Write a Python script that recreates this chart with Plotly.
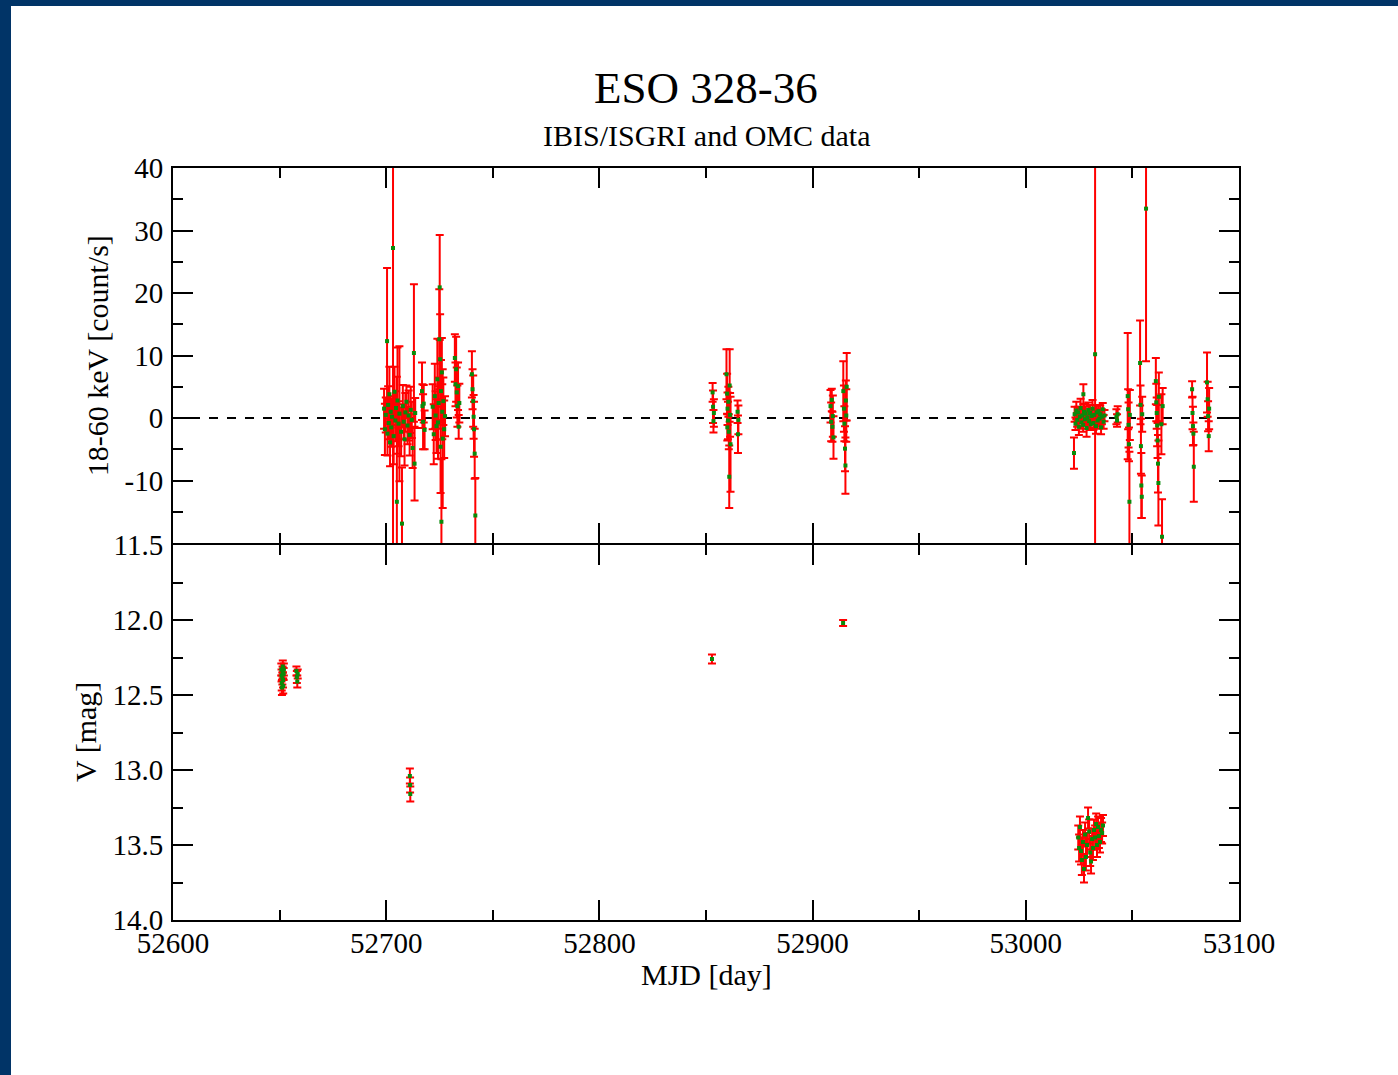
import plotly.graph_objects as go
from plotly.subplots import make_subplots

# ---------------------------------------------------------------
# IBIS/ISGRI 18-60 keV count rates: MJD, rate [count/s], 1-sigma error
# ---------------------------------------------------------------
isgri_mjd = [
    # Rev. ~52700
    52699.0, 52699.4, 52699.8, 52700.4, 52700.6, 52700.9, 52701.2, 52701.5, 52701.8, 52702.1,
    52702.4, 52702.7, 52703.2, 52703.5, 52703.9, 52704.3, 52704.6, 52705.0, 52705.3, 52705.8,
    52706.2, 52707.4, 52707.0, 52707.8, 52708.2, 52708.6, 52709.0, 52709.5, 52710.0, 52710.5,
    52711.0, 52711.5, 52712.0, 52712.4, 52713.0, 52713.3, 52713.6,
    # ~52717
    52716.8, 52717.0, 52717.3, 52717.6, 52718.0,
    # ~52725
    52721.8, 52722.3, 52722.8, 52723.2, 52723.6, 52724.0, 52724.3, 52724.6, 52724.9, 52725.1,
    52725.3, 52725.5, 52725.7, 52725.9, 52726.1, 52726.3, 52726.5, 52726.8, 52727.2, 52727.6,
    # ~52733
    52732.2, 52732.5, 52732.8, 52733.1, 52733.4, 52733.7, 52734.0, 52734.3,
    # ~52741
    52740.2, 52740.5, 52740.8, 52741.0, 52741.2, 52741.5, 52741.8,
    # ~52853 - 52865
    52853.1, 52853.3, 52853.5, 52853.7, 52859.6, 52859.9, 52860.0, 52860.1, 52860.3, 52860.5,
    52860.7, 52860.9, 52861.1, 52861.3, 52861.5, 52864.8, 52865.0, 52865.2,
    # ~52909 - 52916
    52908.4, 52908.7, 52909.0, 52909.3, 52909.5, 52909.8, 52914.4, 52914.7, 52914.9, 52915.2,
    52915.4, 52915.6, 52915.8, 52916.0,
    # ~53023 - 53037
    53022.9, 53023.3, 53023.7, 53024.1, 53024.5, 53024.9, 53025.3, 53025.7, 53026.1, 53026.5,
    53026.9, 53027.3, 53027.7, 53028.1, 53028.5, 53028.9, 53029.3, 53029.7, 53030.1, 53030.5,
    53030.9, 53031.3, 53031.7, 53032.1, 53032.9, 53033.3, 53033.7, 53034.1, 53034.5, 53034.9,
    53035.3, 53035.7, 53036.1, 53036.5, 53036.9,
    53022.6, 53027.0, 53032.5,
    # ~53043
    53042.5, 53042.8, 53043.1,
    # ~53048 - 53056
    53047.8, 53048.0, 53048.2, 53048.4, 53048.6, 53048.8,
    53053.6, 53053.8, 53054.0, 53054.2, 53054.4, 53054.6, 53056.4,
    # ~53061 - 53064
    53061.0, 53061.2, 53061.4, 53061.6, 53061.8, 53062.0, 53062.2, 53062.4, 53063.6, 53063.9,
    53064.2,
    # ~53078 - 53086
    53078.0, 53078.2, 53078.4, 53078.6, 53078.8, 53085.0, 53085.3, 53085.5, 53085.8, 53086.0,
]

isgri_rate = [
    1.5, -1.8, 0.5, 12.3, -2.5, 2.1, -0.8, 3.8, -3.9, 1.0,
    -1.5, 0.2, 27.2, -2.9, 4.2, -0.4, 1.6, -13.4, 2.8, -0.9,
    0.7, -16.9, -2.2, 1.9, -0.6, -3.4, 0.9, 2.6, -1.2, 0.4,
    -2.7, 1.3, -0.3, -4.8, 10.4, -7.3, 0.8,
    4.3, 1.9, -0.6, 2.3, -1.9,
    1.8, -2.6, 3.5, 0.4, -1.3, 6.2, -0.7, 2.4, 12.6, 20.9,
    9.4, -4.6, 4.3, -16.6, 7.3, 1.0, -3.3, 2.7, -1.8, 0.3,
    9.6, 5.4, 7.8, 4.1, 1.9, 5.1, -1.4, 2.4,
    7.0, 4.6, 2.7, 0.2, -1.8, -5.7, -15.6,
    4.1, 1.8, -0.5, 0.8, 7.0, 3.9, -1.5, 1.5, -0.4, 2.6,
    -2.2, -9.4, 5.2, 0.5, -4.2, 1.0, -2.6, -0.3,
    1.9, -0.6, 2.9, -1.4, 0.3, -3.1, 4.3, 1.5, -0.9, -4.9,
    -7.6, 2.8, 0.4, 5.0,
    0.6, -0.9, 1.2, -0.3, 0.9, -1.4, 0.2, 1.6, -0.7, 0.4,
    -1.1, 1.0, -0.2, 0.7, -1.6, 0.1, 1.3, -0.5, 0.8, -1.0,
    0.3, 1.5, -0.8, 0.5, -1.3, 0.9, -0.4, 1.1, -0.1, 0.6,
    -1.5, 0.2, 1.4, -0.6, 0.4,
    -5.6, 3.8, 10.2,
    0.2, -0.4, 0.6,
    3.5, 1.4, -1.1, -4.2, -13.4, 0.5,
    8.8, 2.1, -4.5, -10.8, -12.6, 0.6, 33.5,
    5.9, 2.5, 0.8, -1.2, -3.6, -7.3, -10.4, 3.4, -1.0, -19.0,
    1.9,
    4.6, 0.8, -1.3, -2.5, -7.8, 5.7, 3.0, 0.3, -2.9, 1.5,
]

isgri_err = [
    3.2, 4.1, 2.8, 11.7, 3.5, 3.0, 2.6, 4.4, 3.8, 2.5,
    3.1, 2.9, 52.0, 4.5, 4.0, 3.3, 2.7, 20.0, 8.5, 3.6,
    10.8, 9.0, 3.9, 3.4, 2.8, 4.2, 3.1, 2.6, 3.0, 4.0,
    3.3, 3.7, 2.9, 3.2, 11.0, 5.9, 2.4,
    4.6, 3.5, 4.4, 3.0, 3.1,
    3.6, 4.8, 5.2, 3.9, 4.3, 6.5, 5.8, 4.1, 8.0, 8.4,
    7.2, 7.4, 5.0, 10.0, 5.5, 4.4, 11.1, 3.8, 4.6, 3.2,
    3.8, 3.5, 5.2, 4.0, 3.3, 3.8, 1.9, 3.1,
    3.7, 3.2, 4.1, 3.5, 4.4, 4.0, 6.0,
    1.5, 2.6, 1.8, 2.2, 4.0, 3.2, 2.1, 2.6, 3.0, 2.4,
    2.8, 5.0, 5.8, 3.5, 7.6, 1.8, 3.0, 2.3,
    2.6, 3.1, 1.8, 2.4, 3.3, 3.4, 4.8, 3.7, 2.8, 3.6,
    4.5, 3.2, 4.2, 5.4,
    1.2, 1.0, 1.4, 1.1, 0.9, 1.3, 1.0, 1.5, 1.0, 1.2,
    1.1, 1.3, 0.9, 1.2, 1.4, 1.0, 1.2, 1.1, 1.3, 0.9,
    1.1, 1.4, 1.1, 1.0, 1.2, 1.1, 1.3, 1.0, 1.2, 1.4,
    1.1, 1.2, 1.0, 1.1, 0.9,
    2.5, 1.6, 60.0,
    1.2, 1.0, 1.3,
    10.1, 3.2, 3.6, 2.7, 8.0, 4.0,
    6.8, 3.1, 4.4, 5.2, 3.4, 2.8, 24.4,
    3.7, 3.0, 2.5, 3.3, 2.8, 4.6, 6.8, 3.9, 4.8, 6.0,
    2.9,
    1.3, 2.6, 3.1, 1.8, 5.6, 4.8, 2.8, 2.4, 2.4, 3.3,
]

# ---------------------------------------------------------------
# OMC V-band magnitudes: MJD, V [mag], 1-sigma error
# ---------------------------------------------------------------
omc_mjd = [
    52650.8, 52650.9, 52651.0, 52651.1, 52651.3, 52651.4, 52651.5, 52651.6, 52651.7, 52651.9,
    52652.0,
    52657.9, 52658.1, 52658.3, 52658.5,
    52711.1, 52711.2, 52711.3,
    52852.8,
    52914.3,
    53024.6, 53025.0, 53025.4, 53025.9, 53026.3, 53026.8, 53027.3, 53027.8, 53028.2, 53028.7,
    53029.2, 53029.7, 53030.2, 53030.6, 53031.1, 53031.5, 53032.0, 53032.5, 53033.0, 53033.4,
    53033.9, 53034.3, 53034.8, 53035.3, 53035.8, 53036.2,
]

omc_vmag = [
    12.33, 12.37, 12.42, 12.45, 12.39, 12.35, 12.31, 12.40, 12.44, 12.36,
    12.33,
    12.34, 12.38, 12.41, 12.36,
    13.04, 13.10, 13.16,
    12.26,
    12.02,
    13.45, 13.52, 13.38, 13.54, 13.60, 13.48, 13.66, 13.43, 13.58, 13.50,
    13.32, 13.41, 13.55, 13.61, 13.46, 13.52, 13.40, 13.45, 13.36, 13.50,
    13.38, 13.44, 13.48, 13.40, 13.42, 13.37,
]

omc_err = [
    0.04, 0.04, 0.05, 0.05, 0.04, 0.04, 0.04, 0.05, 0.05, 0.04,
    0.04,
    0.03, 0.04, 0.04, 0.03,
    0.05, 0.05, 0.05,
    0.03,
    0.02,
    0.08, 0.09, 0.07, 0.09, 0.10, 0.08, 0.09, 0.08, 0.09, 0.08,
    0.07, 0.08, 0.09, 0.08, 0.07, 0.08, 0.07, 0.08, 0.07, 0.08,
    0.07, 0.08, 0.07, 0.08, 0.07, 0.07,
]

# axis ticks
mjd_ticks = [52600, 52700, 52800, 52900, 53000, 53100]
mjd_minor = [52650, 52750, 52850, 52950, 53050]
rate_ticks = [-10, 0, 10, 20, 30, 40]
rate_labels = ["-10", "0", "10", "20", "30", "40"]
rate_minor = [-15, -5, 5, 15, 25, 35]
vmag_ticks = [11.5, 12.0, 12.5, 13.0, 13.5, 14.0]
vmag_labels = ["11.5", "12.0", "12.5", "13.0", "13.5", "14.0"]
vmag_minor = [11.75, 12.25, 12.75, 13.25, 13.75]

assert len(isgri_mjd) == len(isgri_rate) == len(isgri_err)
assert len(omc_mjd) == len(omc_vmag) == len(omc_err)

SERIF = "Liberation Serif"
RED = "#ff0000"
GREEN = "#0a8a0a"
NAVY = "#013467"

fig = make_subplots(rows=2, cols=1, shared_xaxes=True, vertical_spacing=0)

fig.add_trace(go.Scatter(
    x=isgri_mjd, y=isgri_rate, mode="markers",
    marker=dict(symbol="square", size=4, color=GREEN, line=dict(width=0)),
    error_y=dict(type="data", array=isgri_err, color=RED, thickness=2, width=4),
    showlegend=False,
), row=1, col=1)

fig.add_trace(go.Scatter(
    x=omc_mjd, y=omc_vmag, mode="markers",
    marker=dict(symbol="square", size=4, color=GREEN, line=dict(width=0)),
    error_y=dict(type="data", array=omc_err, color=RED, thickness=2, width=4),
    showlegend=False,
), row=2, col=1)

# zero-rate reference line
fig.add_shape(type="line", xref="x", yref="y", x0=52600, x1=53100, y0=0, y1=0,
              line=dict(color="black", width=2, dash="dash"), layer="below")

axis_common = dict(
    showline=True, linecolor="black", linewidth=2, mirror="ticks",
    ticks="inside", ticklen=20, tickwidth=2, tickcolor="black",
    showgrid=False, zeroline=False,
    tickfont=dict(family=SERIF, size=29, color="black"),
)
minor_common = dict(ticks="inside", ticklen=10, tickwidth=2, tickcolor="black",
                    tickmode="array", showgrid=False)

# the two panels sit 2 px apart so their shared border lines coincide
gap = 1.0 / 752
for r, dom in ((1, [0.5 + gap, 1.0]), (2, [0.0, 0.5 - gap])):
    fig.update_xaxes(
        range=[52600, 53100], tickmode="array", tickvals=mjd_ticks, tickformat="d",
        minor=dict(tickvals=mjd_minor, **minor_common),
        showticklabels=(r == 2), ticklabelstandoff=-4,
        row=r, col=1, **axis_common,
    )
    fig.update_yaxes(domain=dom, row=r, col=1)

fig.update_yaxes(
    range=[-20, 40], tickmode="array", tickvals=rate_ticks, ticktext=rate_labels,
    minor=dict(tickvals=rate_minor, **minor_common), ticklabelstandoff=2,
    row=1, col=1, **axis_common,
)
fig.update_yaxes(
    range=[14.0, 11.5], tickmode="array", tickvals=vmag_ticks, ticktext=vmag_labels,
    minor=dict(tickvals=vmag_minor, **minor_common), ticklabelstandoff=2,
    row=2, col=1, **axis_common,
)

annotations = [
    dict(text="ESO 328-36", x=0.5, y=1.106, font=dict(size=45)),
    dict(text="IBIS/ISGRI and OMC data", x=0.5, y=1.043, font=dict(size=30)),
    dict(text="18-60 keV [count/s]", x=-0.0713, y=0.751, textangle=-90, font=dict(size=30)),
    dict(text="V [mag]", x=-0.0826, y=0.25, textangle=-90, font=dict(size=30)),
    dict(text="MJD [day]", x=0.5, y=-0.073, font=dict(size=30)),
]
for a in annotations:
    a.update(xref="paper", yref="paper", xanchor="center", yanchor="middle", showarrow=False)
    a["font"].update(family=SERIF, color="black")
    fig.add_annotation(**a)

# dark frame strips along the top and left page edges
fig.add_shape(type="rect", xref="paper", yref="paper", x0=-0.17, x1=-0.15197,
              y0=-0.22, y1=1.23, fillcolor=NAVY, line=dict(width=0), layer="above")
fig.add_shape(type="rect", xref="paper", yref="paper", x0=-0.17, x1=1.16,
              y0=1.2154, y1=1.23, fillcolor=NAVY, line=dict(width=0), layer="above")

fig.update_layout(
    width=1398, height=1075,
    margin=dict(l=173, r=159, t=168, b=155),
    paper_bgcolor="white", plot_bgcolor="white",
    font=dict(family=SERIF, color="black"),
)

fig.write_html("out.html")
